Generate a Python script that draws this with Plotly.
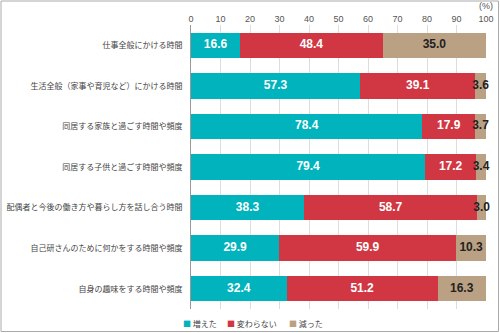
import plotly.graph_objects as go

categories = [
    "仕事全般にかける時間",
    "生活全般（家事や育児など）にかける時間",
    "同居する家族と過ごす時間や頻度",
    "同居する子供と過ごす時間や頻度",
    "配偶者と今後の働き方や暮らし方を話し合う時間",
    "自己研さんのために何かをする時間や頻度",
    "自身の趣味をする時間や頻度",
]
increased = [16.6, 57.3, 78.4, 79.4, 38.3, 29.9, 32.4]
unchanged = [48.4, 39.1, 17.9, 17.2, 58.7, 59.9, 51.2]
decreased = [35.0, 3.6, 3.7, 3.4, 3.0, 10.3, 16.3]
series_names = ["増えた", "変わらない", "減った"]
tick_vals = [0, 10, 20, 30, 40, 50, 60, 70, 80, 90, 100]

colors = ["#00B3BD", "#D13743", "#BBA183"]
text_colors = ["white", "white", "#222222"]

W, H = 500, 333
L, R, T, B = 191, 14, 25, 24
pw, ph = W - L - R, H - T - B

series = [increased, unchanged, decreased]
fig = go.Figure()
for name, vals, c in zip(series_names, series, colors):
    fig.add_trace(go.Bar(
        y=categories, x=vals, name=name, orientation="h",
        marker=dict(color=c, line=dict(width=0)),
        width=0.63, showlegend=False, hoverinfo="x+name",
    ))

# value labels centred on each segment
base = [0.0] * len(categories)
for name, vals, tc in zip(series_names, series, text_colors):
    mids = [b + v / 2 for b, v in zip(base, vals)]
    fig.add_trace(go.Scatter(
        y=categories, x=mids, mode="text", text=[f"{v:.1f}" for v in vals],
        textposition="middle center", showlegend=False, hoverinfo="skip", cliponaxis=False,
        textfont=dict(family="Liberation Sans", size=12, color=tc, weight="bold"),
    ))
    base = [b + v for b, v in zip(base, vals)]

fig.update_layout(
    barmode="stack",
    width=W, height=H,
    margin=dict(l=L, r=R, t=T, b=B),
    paper_bgcolor="white", plot_bgcolor="white",
    font=dict(family="Noto Sans CJK JP", color="#444444"),
    showlegend=False,
    xaxis=dict(range=[0, 100], side="top", tickvals=tick_vals, showgrid=True,
               gridcolor="#dddddd", gridwidth=1, zeroline=False, showline=False,
               ticks="", automargin=False,
               tickfont=dict(size=9, family="Liberation Sans", color="#555555")),
    yaxis=dict(autorange=False, range=[6.5, -0.5], showline=True, linecolor="#999999", linewidth=1,
               ticks="", automargin=False, tickfont=dict(size=8, color="#444444"),
               ticklabelstandoff=6),
)

fig.add_annotation(x=100, y=1, xref="x", yref="paper", yshift=19, yanchor="middle", text="(%)",
                   showarrow=False, xanchor="center",
                   font=dict(size=9, family="Liberation Sans", color="#555555"))

# legend drawn as text entries with coloured squares
legend_px = [181, 225, 287]
for name, c, px in zip(series_names, colors, legend_px):
    fig.add_annotation(x=(px - L) / pw, y=(T + ph - 323) / ph, xref="paper", yref="paper",
                       xanchor="left", yanchor="middle", showarrow=False,
                       text=f"<span style='color:{c}'>■</span> {name}",
                       font=dict(size=8, color="#444444"))

# outer frame
fig.add_shape(type="rect", xref="paper", yref="paper",
              x0=(1 - L) / pw, x1=(W - 1.5 - L) / pw,
              y0=(T + ph - (H - 1.5)) / ph, y1=(T + ph - 1) / ph,
              line=dict(color="#aaaaaa", width=1), fillcolor="rgba(0,0,0,0)", layer="below")

fig.write_html("out.html")
